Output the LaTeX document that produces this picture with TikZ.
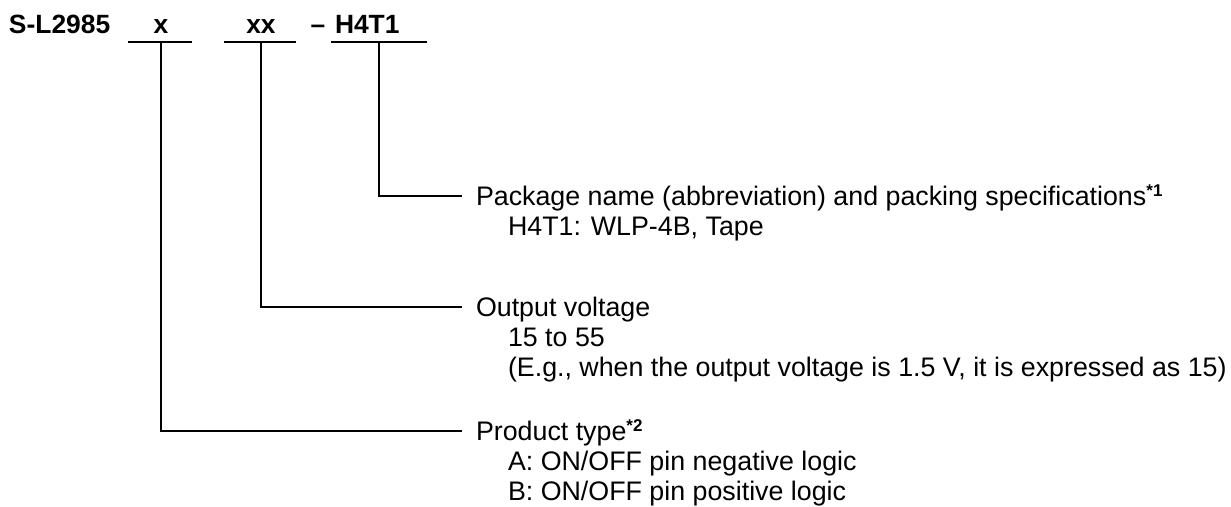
\documentclass[tikz,border=0pt]{standalone}
\usepackage{fontspec}
\setmainfont{Liberation Sans}
\begin{document}
\begin{tikzpicture}[x=1pt,y=-1pt,
  txt/.style={anchor=base west,inner sep=0pt,outer sep=0pt,font=\fontsize{26.8}{30}\selectfont},
  ttl/.style={anchor=base west,inner sep=0pt,outer sep=0pt,font=\fontsize{26.4}{30}\selectfont\bfseries},
  ttlc/.style={anchor=base,inner sep=0pt,outer sep=0pt,font=\fontsize{26.4}{30}\selectfont\bfseries},
  conn/.style={line width=2pt}]
\useasboundingbox (0,0) rectangle (1231,506);
\newcommand{\noteref}[1]{{\fontsize{17}{17}\selectfont\bfseries\raisebox{9pt}{*#1}}}
% title
\node[ttl] (code) at (9,33) {S-L2985};
\node[ttlc] (tx) at (161,33) {x};
\node[ttlc] (txx) at (261,33) {xx};
\node[ttlc] (tdash) at (318,33) {–};
\node[ttl] (th) at (335,33) {H4T1};
% underlines
\coordinate (u1l) at (128,41.5); \coordinate (u1r) at (192,41.5);
\coordinate (u2l) at (224,41.5); \coordinate (u2r) at (296,41.5);
\coordinate (u3l) at (331,41.5); \coordinate (u3r) at (427,41.5);
\draw[conn] (u1l) -- (u1r);
\draw[conn] (u2l) -- (u2r);
\draw[conn] (u3l) -- (u3r);
\coordinate (d1) at (161,41.5);
\coordinate (d2) at (260.5,41.5);
\coordinate (d3) at (379,41.5);
% line ends
\coordinate (e3) at (461.5,196);
\coordinate (e2) at (461.5,307);
\coordinate (e1) at (461.5,431);
\draw[conn] (d3) |- (e3);
\draw[conn] (d2) |- (e2);
\draw[conn] (d1) |- (e1);
% package
\node[txt] (pk1) at (476,205) {Package name (abbreviation) and packing specifications\noteref{1}};
\node[txt] (pk2) at (508,235) {H4T1: WLP-4B, Tape};
% output voltage
\node[txt] (ov1) at (476,316) {Output voltage};
\node[txt] (ov2) at (508,346) {15 to 55};
\node[txt] (ov3) at (508,376) {(E.g., when the output voltage is 1.5 V, it is expressed as 15)};
% product type
\node[txt] (pt1) at (476,440) {Product type\noteref{2}};
\node[txt] (pt2) at (508,470) {A: ON/OFF pin negative logic};
\node[txt] (pt3) at (508,500) {B: ON/OFF pin positive logic};
\end{tikzpicture}
\end{document}
